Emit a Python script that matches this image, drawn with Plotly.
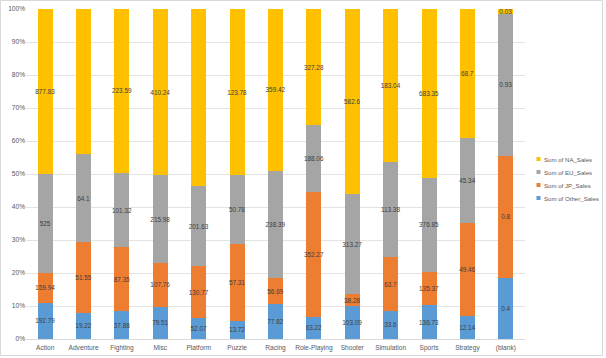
import plotly.graph_objects as go

categories = ["Action", "Adventure", "Fighting", "Misc", "Platform", "Puzzle", "Racing",
              "Role-Playing", "Shooter", "Simulation", "Sports", "Strategy", "(blank)"]
other_sales = [192.79, 19.22, 37.88, 79.51, 52.07, 13.72, 77.82, 63.22, 103.09, 33.6, 136.73, 12.14, 0.4]
jp_sales = [159.94, 51.55, 87.35, 107.76, 130.77, 57.31, 56.69, 352.27, 38.28, 63.7, 135.37, 49.46, 0.8]
eu_sales = [525, 64.1, 101.32, 215.98, 201.63, 50.78, 238.39, 188.06, 313.27, 113.38, 376.85, 45.34, 0.93]
na_sales = [877.83, 105.77, 223.59, 410.24, 447.05, 123.78, 359.42, 327.28, 582.6, 183.04, 683.35, 68.7, 0.03]

series = [
    ("Sum of Other_Sales", other_sales, "#5B9BD5"),
    ("Sum of JP_Sales", jp_sales, "#ED7D31"),
    ("Sum of EU_Sales", eu_sales, "#A5A5A5"),
    ("Sum of NA_Sales", na_sales, "#FFC000"),
]

FONT = "Liberation Sans"
L, R, T, B = 26, 81, 9, 19
W, H = 606, 358
PW, PH = W - L - R, H - T - B

fig = go.Figure()
for name, vals, color in series:
    fig.add_trace(go.Bar(
        x=categories, y=vals, name=name,
        marker=dict(color=color, line=dict(width=0)),
        text=[f"{v:g}" for v in vals],
        textposition="inside", insidetextanchor="middle", textangle=0,
        constraintext="none", cliponaxis=False,
        textfont=dict(family=FONT, size=6.4, color="#404040"),
        width=0.39, showlegend=False, hoverinfo="skip",
    ))

# manual legend (Excel-style small squares)
def px_x(px):
    return (px - L) / PW

def px_y(py):
    return 1 - (py - T) / PH

legend_rows = [159, 172, 185, 198]
for (name, vals, color), ypx in zip(reversed(series), legend_rows):
    fig.add_shape(type="rect", xref="paper", yref="paper",
                  x0=px_x(536.5), x1=px_x(540.5), y0=px_y(ypx + 2), y1=px_y(ypx - 2),
                  line=dict(width=0), fillcolor=color)
    fig.add_annotation(xref="paper", yref="paper", x=px_x(542), y=px_y(ypx),
                       xanchor="left", yanchor="middle", showarrow=False, text=name,
                       font=dict(family=FONT, size=6.1, color="#595959"))

fig.update_layout(
    barmode="stack", barnorm="percent",
    width=W, height=H,
    margin=dict(l=L, r=R, t=T, b=B, autoexpand=False),
    paper_bgcolor="white", plot_bgcolor="white",
    font=dict(family=FONT, size=6.6, color="#595959"),
    showlegend=False,
)
fig.update_xaxes(showgrid=False, showline=True, linecolor="#D9D9D9", linewidth=1,
                 ticks="", tickfont=dict(size=6.6, color="#595959"), ticklabelstandoff=2,
                 automargin=False)
fig.update_yaxes(range=[0, 100], tickvals=[0, 10, 20, 30, 40, 50, 60, 70, 80, 90, 100],
                 ticktext=[f"{v}%" for v in range(0, 101, 10)],
                 showgrid=True, gridcolor="#E3E3E3", gridwidth=1, zeroline=False,
                 showline=False, ticks="", tickfont=dict(size=6.6, color="#595959"),
                 automargin=False)
fig.add_shape(type="rect", xref="paper", yref="paper",
              x0=px_x(0.5), x1=px_x(602.5), y0=px_y(355.5), y1=px_y(0.5),
              line=dict(color="#D9D9D9", width=1), fillcolor="rgba(0,0,0,0)", layer="below")
fig.write_html("out.html", config={"displayModeBar": False},
               post_script="document.body.style.margin='0';document.body.style.overflow='hidden';")
